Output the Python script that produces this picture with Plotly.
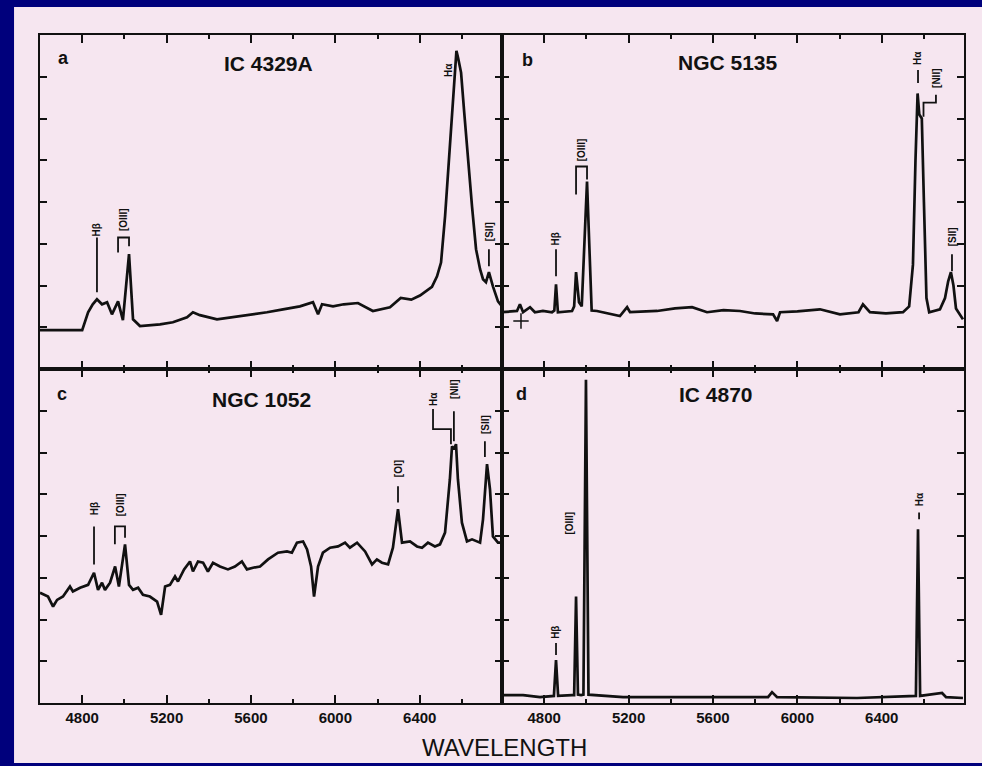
import plotly.graph_objects as go
from plotly.subplots import make_subplots

# Wavelength (Angstrom) and relative flux
wl_a = [4600, 4800, 4828, 4850, 4870, 4894, 4918, 4941, 4970, 4993, 5022, 5041, 5074, 5169,
        5230, 5297, 5325, 5358, 5439, 5515, 5595, 5676, 5752, 5832, 5894, 5918, 5937, 5989,
        6040, 6107, 6178, 6259, 6310, 6360, 6401, 6458, 6482, 6501, 6520, 6534, 6553, 6567,
        6574, 6582, 6596, 6611, 6629, 6648, 6667, 6686, 6700, 6714, 6728, 6747, 6771, 6790]
flux_a = [0.93, 0.93, 1.36, 1.55, 1.67, 1.55, 1.60, 1.31, 1.62, 1.17, 2.75, 1.19, 1.03, 1.07,
          1.12, 1.24, 1.36, 1.29, 1.19, 1.24, 1.31, 1.36, 1.43, 1.50, 1.60, 1.31, 1.55, 1.50,
          1.55, 1.58, 1.39, 1.48, 1.70, 1.66, 1.76, 1.97, 2.22, 2.55, 3.65, 4.70, 6.04, 7.20,
          7.62, 7.45, 7.10, 6.14, 4.94, 3.89, 2.87, 2.39, 2.15, 2.08, 2.32, 1.98, 1.62, 1.50]

wl_b = [4600, 4671, 4685, 4700, 4733, 4756, 4794, 4837, 4848, 4856, 4865, 4932, 4942, 4951,
        4965, 4978, 5003, 5025, 5050, 5159, 5193, 5207, 5335, 5420, 5501, 5572, 5650, 5728,
        5800, 5885, 5904, 5918, 6000, 6107, 6202, 6290, 6311, 6344, 6420, 6501, 6530, 6548,
        6560, 6570, 6578, 6590, 6600, 6612, 6625, 6676, 6700, 6715, 6728, 6740, 6752, 6770,
        6785]
flux_b = [1.36, 1.39, 1.55, 1.36, 1.48, 1.36, 1.39, 1.36, 1.40, 2.03, 1.36, 1.39, 1.50, 2.32,
          1.60, 1.50, 4.49, 1.40, 1.39, 1.27, 1.48, 1.36, 1.39, 1.45, 1.48, 1.36, 1.41, 1.39,
          1.33, 1.31, 1.15, 1.36, 1.38, 1.43, 1.31, 1.36, 1.55, 1.36, 1.33, 1.36, 1.50, 2.50,
          5.00, 6.60, 6.10, 6.00, 4.00, 1.70, 1.36, 1.43, 1.70, 2.10, 2.32, 2.00, 1.45, 1.30,
          1.19]

wl_c = [4600, 4638, 4662, 4681, 4709, 4742, 4756, 4790, 4828, 4856, 4875, 4894, 4908, 4932,
        4956, 4974, 5003, 5022, 5041, 5065, 5088, 5121, 5155, 5174, 5193, 5216, 5240, 5254,
        5283, 5311, 5325, 5349, 5373, 5396, 5420, 5453, 5491, 5524, 5557, 5581, 5610, 5643,
        5681, 5728, 5771, 5794, 5818, 5847, 5866, 5885, 5899, 5918, 5941, 5975, 6013, 6046,
        6069, 6103, 6141, 6174, 6197, 6221, 6250, 6273, 6297, 6316, 6354, 6387, 6411, 6439,
        6472, 6496, 6520, 6543, 6553, 6562, 6572, 6581, 6600, 6624, 6648, 6686, 6700, 6719,
        6733, 6747, 6771, 6790]
flux_c = [2.64, 2.55, 2.31, 2.47, 2.55, 2.79, 2.67, 2.76, 2.83, 3.12, 2.71, 2.88, 2.71, 2.88,
          3.27, 2.79, 3.80, 2.83, 2.71, 2.76, 2.59, 2.55, 2.43, 2.11, 2.79, 2.83, 3.03, 2.91,
          3.20, 3.39, 3.15, 3.39, 3.36, 3.15, 3.36, 3.27, 3.20, 3.27, 3.39, 3.20, 3.24, 3.27,
          3.44, 3.60, 3.63, 3.60, 3.84, 3.87, 3.68, 3.27, 2.55, 3.27, 3.60, 3.72, 3.75, 3.84,
          3.72, 3.84, 3.63, 3.32, 3.44, 3.36, 3.32, 3.72, 4.64, 3.84, 3.87, 3.75, 3.72, 3.84,
          3.75, 3.80, 4.08, 5.36, 6.15, 6.08, 6.20, 5.36, 4.32, 3.87, 3.92, 3.84, 4.40, 5.72,
          5.12, 3.99, 3.84, 3.84]

wl_d = [4600, 4700, 4780, 4846, 4856, 4866, 4932, 4942, 4951, 4960, 4975, 4986, 4998, 5010,
        5174, 5491, 5861, 5880, 5904, 6283, 6562, 6572, 6582, 6686, 6705, 6785]
flux_d = [0.19, 0.19, 0.14, 0.17, 1.03, 0.17, 0.19, 0.19, 2.55, 0.20, 0.19, 0.20, 7.74, 0.20,
          0.14, 0.14, 0.14, 0.26, 0.14, 0.12, 0.17, 4.16, 0.17, 0.24, 0.14, 0.12]

titles = ["IC 4329A", "NGC 5135", "NGC 1052", "IC 4870"]
letters = ["a", "b", "c", "d"]

# line identifications: (label, wavelength, label y, tick bottom, tick top)
lines_a = [("Hβ", 4870, 3.34, 1.84, 3.15), ("[SII]", 6728, 3.30, 2.46, 2.87)]
lines_b = [("Hβ", 4856, 3.10, 2.22, 2.87), ("Hα", 6572, 7.45, 6.85, 7.16),
           ("[SII]", 6733, 3.18, 2.34, 2.75)]
lines_c = [("Hβ", 4856, 4.64, 3.32, 4.23), ("[OI]", 6297, 5.60, 4.80, 5.19),
           ("[NII]", 6562, 7.52, 6.27, 6.99), ("[SII]", 6709, 6.68, 5.89, 6.27)]
lines_d = [("Hβ", 4856, 1.68, 1.15, 1.44), ("Hα", 6577, 4.88, 4.40, 4.56)]
# bracket for the [OIII] doublet: (left wl, right wl, top, left bottom, right bottom, label y)
oiii = [(4970, 5022, 3.15, 2.79, 2.94, 3.58), (4951, 5003, 4.85, 4.18, 4.54, 5.25),
        (4955, 5003, 4.23, 3.80, 3.96, 4.76)]

navy = "#00007c"
pink = "#f6e6f0"
ink = "#111111"

fig = make_subplots(rows=2, cols=2, horizontal_spacing=0, vertical_spacing=0)

spectra = [(wl_a, flux_a, 1, 1), (wl_b, flux_b, 1, 2), (wl_c, flux_c, 2, 1), (wl_d, flux_d, 2, 2)]
for wl, fl, r, c in spectra:
    fig.add_trace(go.Scatter(x=wl, y=fl, mode="lines", line=dict(color=ink, width=2.7),
                             showlegend=False, hoverinfo="skip"), row=r, col=c)

# zero-level cross in panel b
fig.add_trace(go.Scatter(x=[4690], y=[1.15], mode="markers", showlegend=False,
                         hoverinfo="skip",
                         marker=dict(symbol="cross-thin", size=11,
                                     line=dict(color=ink, width=1.5))), row=1, col=2)

refs = [("x", "y"), ("x2", "y2"), ("x3", "y3"), ("x4", "y4")]
lab = dict(family="Liberation Sans", size=10, color=ink, weight="bold")


def tag(xr, yr, x, y, text):
    fig.add_annotation(xref=xr, yref=yr, x=x, y=y, text=text, textangle=-90,
                       xanchor="center", yanchor="middle", showarrow=False, font=lab)


for (xr, yr), lines in zip(refs, [lines_a, lines_b, lines_c, lines_d]):
    for name, w, ly, y0, y1 in lines:
        fig.add_shape(type="line", xref=xr, yref=yr, x0=w, x1=w, y0=y0, y1=y1,
                      line=dict(color=ink, width=1.8))
        tag(xr, yr, w, ly, name)

for (xr, yr), (wl1, wl2, top, b1, b2, ly) in zip(refs[:3], oiii):
    fig.add_shape(type="path", xref=xr, yref=yr,
                  path=f"M {wl1},{b1} L {wl1},{top} L {wl2},{top} L {wl2},{b2}",
                  line=dict(color=ink, width=1.8))
    tag(xr, yr, (wl1 + wl2) / 2, ly, "[OIII]")
tag("x4", "y4", 4922, 4.32, "[OIII]")

# Halpha label in panel a, bracketed Halpha / [NII] in panels b and c
tag("x", "y", 6534, 7.16, "Hα")
tag("x2", "y2", 6657, 6.97, "[NII]")
fig.add_shape(type="path", xref="x2", yref="y2",
              path="M 6657,6.57 L 6657,6.38 L 6598,6.38 L 6598,6.04",
              line=dict(color=ink, width=1.8))
tag("x3", "y3", 6463, 7.28, "Hα")
fig.add_shape(type="path", xref="x3", yref="y3",
              path="M 6463,7.04 L 6463,6.56 L 6548,6.56 L 6548,6.20",
              line=dict(color=ink, width=1.8))

# panel letters and object names
letter_pos = [(0.05, 0.93), (0.056, 0.925), (0.048, 0.925), (0.043, 0.925)]
title_pos = [(0.494, 0.916), (0.489, 0.919), (0.48, 0.91), (0.463, 0.925)]
for (xr, yr), t, l, lp, tp in zip(refs, titles, letters, letter_pos, title_pos):
    fig.add_annotation(xref=f"{xr} domain", yref=f"{yr} domain", x=lp[0], y=lp[1], text=l,
                       xanchor="center", yanchor="middle", showarrow=False,
                       font=dict(family="Liberation Sans", size=18, color=ink, weight="bold"))
    fig.add_annotation(xref=f"{xr} domain", yref=f"{yr} domain", x=tp[0], y=tp[1], text=t,
                       xanchor="center", yanchor="middle", showarrow=False,
                       font=dict(family="Liberation Sans", size=21, color=ink, weight="bold"))

fig.update_xaxes(range=[4600, 6790], tick0=4800, dtick=400, ticks="inside", ticklen=8,
                 tickwidth=2, tickcolor=ink, showline=True, linecolor=ink, linewidth=2,
                 mirror="ticks", showgrid=False, zeroline=False,
                 minor=dict(dtick=200, tick0=4800, ticks="inside", ticklen=4, tickwidth=2,
                            tickcolor=ink, showgrid=False),
                 tickfont=dict(family="Liberation Sans", size=15, color=ink, weight="bold"))
fig.update_xaxes(showticklabels=False, row=1)
fig.update_yaxes(range=[0, 8], dtick=1, ticks="inside", ticklen=7, tickwidth=2, tickcolor=ink,
                 showline=True, linecolor=ink, linewidth=2, mirror="ticks", showgrid=False,
                 zeroline=False, showticklabels=False)

fig.add_annotation(xref="paper", yref="paper", x=0.503, y=-0.066, text="WAVELENGTH",
                   xanchor="center", yanchor="middle", showarrow=False,
                   font=dict(family="Liberation Sans", size=24, color=ink))

fig.add_shape(type="rect", xref="paper", yref="paper", x0=-0.0281, x1=1.05, y0=-0.0898,
              y1=1.042, fillcolor=pink, line=dict(width=0), layer="below")

fig.update_layout(width=982, height=766, margin=dict(l=40, r=18, t=35, b=63),
                  paper_bgcolor=navy, plot_bgcolor=pink, showlegend=False)

fig.write_html("out.html", config={"displayModeBar": False},
               post_script="document.body.style.margin='0px';")
